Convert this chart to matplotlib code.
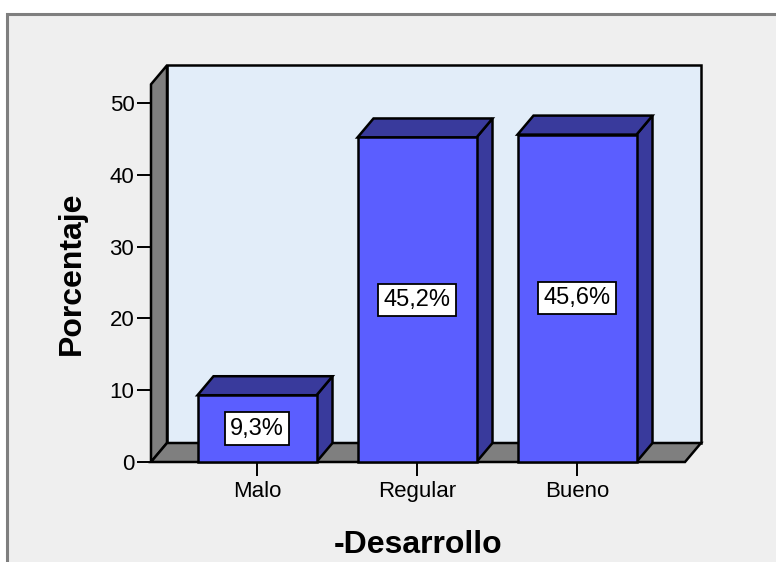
import matplotlib
matplotlib.use("Agg")
import matplotlib.pyplot as plt
from matplotlib.patches import Polygon, Rectangle
import numpy as np

categories = ["Malo", "Regular", "Bueno"]
values = [9.3, 45.2, 45.6]
value_labels = ["9,3%", "45,2%", "45,6%"]
yticks = [0, 10, 20, 30, 40, 50]
ylabel = "Porcentaje"
xlabel = "-Desarrollo"

W, H = 776, 562
fig = plt.figure(figsize=(W / 100, H / 100), dpi=100)
fig.patch.set_facecolor("white")
plt.rcParams["font.family"] = ["Liberation Sans", "DejaVu Sans"]

# outer chart panel
fig.patches.append(Rectangle((7 / W, -0.1), 1.2, (H - 14) / H + 0.1,
                             transform=fig.transFigure, facecolor="#EFEFEF",
                             edgecolor="#7F7F7F", lw=2.2, zorder=-5))

# front plane geometry in pixels
left_px, right_px, bottom_px, top_px = 151, 710, 462, 55
px_x = 160.0   # pixels per category unit
px_y = 7.18    # pixels per percent
x0 = -(257 - left_px) / px_x
ax = fig.add_axes([left_px / W, (H - bottom_px) / H,
                   (right_px - left_px) / W, (bottom_px - top_px) / H])
ax.set_zorder(1)
ax.set_xlim(x0, x0 + (right_px - left_px) / px_x)
ax.set_ylim(0, (bottom_px - top_px) / px_y)
ax.patch.set_visible(False)
for s in ax.spines.values():
    s.set_visible(False)

dx = 16 / px_x
dy = 19 / px_y
x1 = x0 + (685 - left_px) / px_x
ytop = 52.6
bw = 119 / px_x

wall_c = "#E2EDF9"
grey = "#7F7F7F"
front_c = "#5B5EFF"
dark_c = "#393A9C"
ek = dict(edgecolor="black", lw=1.8, clip_on=False, joinstyle="miter")

# back wall
ax.add_patch(Polygon([(x0 + dx, dy), (x1 + dx, dy), (x1 + dx, ytop + dy), (x0 + dx, ytop + dy)],
                     facecolor=wall_c, zorder=1, **ek))
# left wall
ax.add_patch(Polygon([(x0, 0), (x0 + dx, dy), (x0 + dx, ytop + dy), (x0, ytop)],
                     facecolor=grey, zorder=2, **ek))
# floor
ax.add_patch(Polygon([(x0, 0), (x1, 0), (x1 + dx, dy), (x0 + dx, dy)],
                     facecolor=grey, zorder=2, **ek))

pos = np.arange(len(categories))
for i, (c, v, lab) in enumerate(zip(pos, values, value_labels)):
    l, r = c - bw / 2, c + bw / 2
    z = 3 + i
    ax.add_patch(Polygon([(r, 0), (r + dx, dy), (r + dx, v + dy), (r, v)],
                         facecolor=dark_c, zorder=z, **ek))
    ax.add_patch(Polygon([(l, v), (r, v), (r + dx, v + dy), (l + dx, v + dy)],
                         facecolor=dark_c, zorder=z, **ek))
    ax.add_patch(Polygon([(l, 0), (r, 0), (r, v), (l, v)],
                         facecolor=front_c, zorder=z, **ek))
    ax.text(c, v / 2, lab, ha="center", va="center", fontsize=17, zorder=10,
            bbox=dict(boxstyle="square,pad=0.22", facecolor="white",
                      edgecolor="black", lw=1.3))

ax.set_yticks(yticks)
ax.set_yticklabels([str(t) for t in yticks])
ax.set_xticks(pos)
ax.set_xticklabels(categories)
ax.tick_params(axis="y", direction="out", length=10, width=1.4, pad=2,
               labelsize=16, colors="black")
ax.tick_params(axis="x", direction="out", length=10, width=1.4, pad=4,
               labelsize=16, colors="black")

fig.text(72 / W, 1 - 273 / H, ylabel, rotation=90, ha="center", va="center",
         fontsize=23, fontweight="bold")
fig.text(418 / W, 1 - 545 / H, xlabel, ha="center", va="center",
         fontsize=23, fontweight="bold")

fig.savefig("out.png", dpi=100)
